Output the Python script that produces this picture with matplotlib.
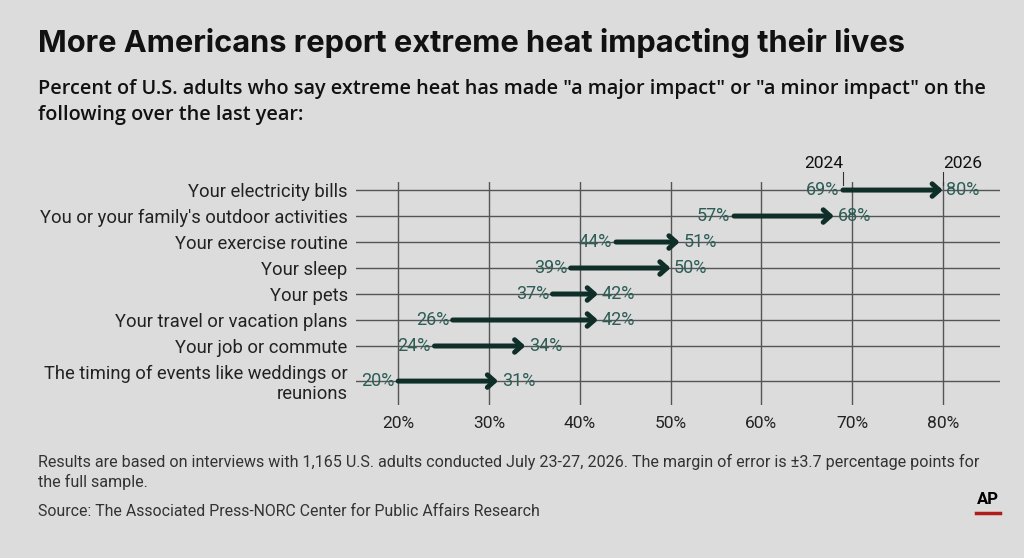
import matplotlib
matplotlib.use('Agg')
import matplotlib.pyplot as plt

# ---- data ----
categories = [
    "Your electricity bills",
    "You or your family's outdoor activities",
    "Your exercise routine",
    "Your sleep",
    "Your pets",
    "Your travel or vacation plans",
    "Your job or commute",
    "The timing of events like weddings or\nreunions",
]
val_2024 = [69, 57, 44, 39, 37, 26, 24, 20]
val_2026 = [80, 68, 51, 50, 42, 42, 34, 31]
row_pos = [0, 1, 2, 3, 4, 5, 6, 7.35]
xticks = [20, 30, 40, 50, 60, 70, 80]

BG = '#dcdcdc'
ARROW = '#0f2e28'
LABEL = '#2d5e56'
GRID = '#555555'

plt.rcParams['font.family'] = ['Roboto', 'DejaVu Sans']

fig = plt.figure(figsize=(10.24, 5.58), dpi=100, facecolor=BG)
ax = fig.add_axes([356/1024, 1 - 405/558, 644/1024, 223/558])
ax.set_facecolor(BG)
ax.set_xlim(15.35, 86.3)
ax.set_ylim(8.27, -0.31)
for s in ax.spines.values():
    s.set_visible(False)

for x in xticks:
    ax.axvline(x, color=GRID, lw=1.0, zorder=1)
for y in row_pos:
    ax.axhline(y, color=GRID, lw=1.0, zorder=1)

for y, a, b in zip(row_pos, val_2024, val_2026):
    ax.annotate('', xy=(b, y), xytext=(a, y),
                arrowprops=dict(arrowstyle='->,head_length=0.5,head_width=0.45',
                                color=ARROW, lw=3.6, shrinkA=0, shrinkB=0),
                zorder=3)
    ax.text(a - 0.4, y, f'{a}%', ha='right', va='center', fontsize=13,
            color=LABEL, zorder=4)
    ax.text(b + 0.4, y, f'{b}%', ha='left', va='center', fontsize=13,
            color=LABEL, zorder=4)

ax.set_xticks(xticks)
ax.set_xticklabels([f'{x}%' for x in xticks], fontsize=12.5, color='#222222')
ax.set_yticks(row_pos)
ax.set_yticklabels(categories, fontsize=13.2, color='#222222', linespacing=1.1)
ax.tick_params(length=0, axis='x', pad=8)
ax.tick_params(length=0, axis='y', pad=6)

# year markers
ax.text(val_2024[0], -0.75, '2024', ha='right', va='bottom', fontsize=12.5, color='#111111')
ax.text(val_2026[0], -0.75, '2026', ha='left', va='bottom', fontsize=12.5, color='#111111')
for x in (val_2024[0], val_2026[0]):
    ax.plot([x, x], [-0.7, -0.2], color='#333333', lw=0.8, clip_on=False)

# titles
fig.text(38/1024, 1 - 43/558, 'More Americans report extreme heat impacting their lives',
         fontsize=22.2, fontweight='bold', family=['Inter', 'DejaVu Sans'],
         color='#111111', va='center')
fig.text(38/1024, 1 - 102/558,
         'Percent of U.S. adults who say extreme heat has made "a major impact" or "a minor impact" on the\n'
         'following over the last year:',
         fontsize=14.3, fontweight='semibold', family=['Open Sans', 'DejaVu Sans'],
         color='#111111', va='center', linespacing=1.35)

# footnotes
fig.text(38/1024, 1 - 472/558,
         'Results are based on interviews with 1,165 U.S. adults conducted July 23-27, 2026. '
         'The margin of error is \u00b13.7 percentage points for\nthe full sample.',
         fontsize=11.6, color='#333333', va='center', linespacing=1.3)
fig.text(38/1024, 1 - 511/558,
         'Source: The Associated Press-NORC Center for Public Affairs Research',
         fontsize=11.4, color='#333333', va='center')

# AP logo
fig.text(988/1024, 1 - 499/558, 'AP', fontsize=12, fontweight='bold',
         ha='center', va='center', color='#000000')
fig.add_artist(plt.Line2D([976/1024, 1000/1024], [1 - 513/558, 1 - 513/558],
                          color='#b01c1c', lw=2.5))

fig.savefig('out.png', dpi=100, facecolor=BG)
